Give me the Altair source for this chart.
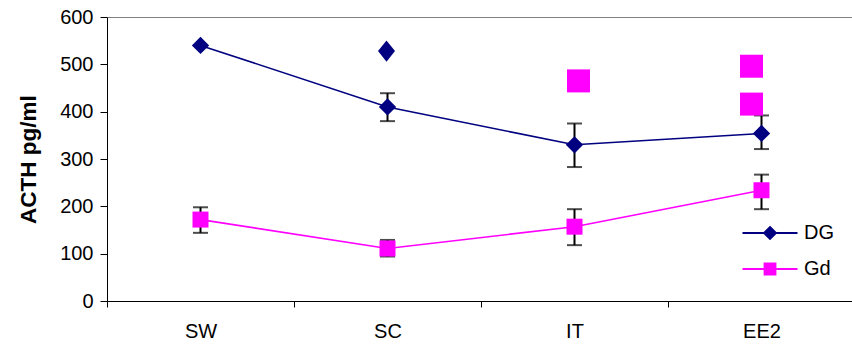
import altair as alt
import pandas as pd

# ---- data ----
categories = ["SW", "SC", "IT", "EE2"]
dg_mean = [540, 410, 330, 354]
dg_low = [None, 380, 283, 321]
dg_high = [None, 439, 375, 392]
gd_mean = [172, 111, 157, 234]
gd_low = [144, 94, 118, 194]
gd_high = [198, 129, 194, 267]

dg_out_cat = ["SC"]
dg_out_val = [528]
gd_out_cat = ["IT", "EE2", "EE2"]
gd_out_val = [465, 496, 416]

series_names = ["DG", "Gd"]
series_colors = ["#000080", "#FF00FF"]

rows = []
for c, m, lo, hi in zip(categories, dg_mean, dg_low, dg_high):
    rows.append({"cat": c, "series": "DG", "mean": m, "low": lo, "high": hi})
for c, m, lo, hi in zip(categories, gd_mean, gd_low, gd_high):
    rows.append({"cat": c, "series": "Gd", "mean": m, "low": lo, "high": hi})
df = pd.DataFrame(rows)

out_df = pd.DataFrame(
    [{"cat": c, "series": "DG", "val": v} for c, v in zip(dg_out_cat, dg_out_val)]
    + [{"cat": c, "series": "Gd", "val": v} for c, v in zip(gd_out_cat, gd_out_val)]
)

FONT = "Liberation Sans"
TITLE = "ACTH pg/ml"

xscale = alt.Scale(type="band", domain=categories, range=[0, 748], paddingInner=0, paddingOuter=0)
yscale = alt.Scale(domain=[0, 600], nice=False)

x_bottom = alt.X("cat:N", scale=xscale, sort=categories, title=None,
                 axis=alt.Axis(orient="bottom", labelAngle=0, labelFontSize=20, labelFont=FONT,
                               labelColor="black", tickBand="extent", tickSize=6,
                               tickColor="black", domainColor="black", labelPadding=14,
                               grid=False))
x_none = alt.X("cat:N", scale=xscale, sort=categories, title=None, axis=None)
x_top = alt.X("cat:N", scale=xscale, sort=categories, title=None,
              axis=alt.Axis(orient="top", labels=False, ticks=False, domainColor="#808080",
                            grid=False))

y_axis = alt.Axis(orient="left", values=[0, 100, 200, 300, 400, 500, 600], labelFontSize=20,
                  labelFont=FONT, labelColor="black", tickSize=7, tickColor="black",
                  domainColor="black", labelPadding=7, grid=False,
                  titleFont=FONT, titleFontSize=22.5, titleFontWeight="bold",
                  titleColor="black", titlePadding=19)


def Y(field):
    return alt.Y(field, scale=yscale, title=TITLE, axis=y_axis)


base = alt.Chart(df)
dg_base = base.transform_filter("datum.series == 'DG'")
gd_base = base.transform_filter("datum.series == 'Gd'")

dg_line = dg_base.mark_line(strokeWidth=1.6, color=series_colors[0]).encode(x=x_bottom, y=Y("mean:Q"))
gd_line = gd_base.mark_line(strokeWidth=1.6, color=series_colors[1]).encode(x=x_none, y=Y("mean:Q"))

err = base.transform_filter("isValid(datum.low)")
rules = err.mark_rule(color="black", strokeWidth=2).encode(
    x=x_none, y=Y("low:Q"), y2="high:Q")
cap_lo = err.mark_tick(color="black", thickness=2, size=15, orient="horizontal").encode(
    x=x_none, y=Y("low:Q"))
cap_hi = err.mark_tick(color="black", thickness=2, size=15, orient="horizontal").encode(
    x=x_none, y=Y("high:Q"))

dg_pts = dg_base.mark_point(
    shape="diamond", filled=True, size=300, color=series_colors[0], opacity=1).encode(
    x=x_none, y=Y("mean:Q"))
gd_pts = gd_base.mark_point(
    shape="square", filled=True, size=256, color=series_colors[1], opacity=1).encode(
    x=x_none, y=Y("mean:Q"))

outb = alt.Chart(out_df)
dg_out = outb.transform_filter("datum.series == 'DG'").mark_point(
    shape="M0,-1.25L1,0L0,1.25L-1,0Z", filled=True, size=289, color=series_colors[0], opacity=1,
    xOffset=-1).encode(x=x_none, y=Y("val:Q"))
gd_out_it = outb.transform_filter("datum.series == 'Gd' && datum.cat == 'IT'").mark_point(
    shape="square", filled=True, size=529, color=series_colors[1], opacity=1, xOffset=4).encode(
    x=x_none, y=Y("val:Q"))
gd_out_ee = outb.transform_filter("datum.series == 'Gd' && datum.cat == 'EE2'").mark_point(
    shape="square", filled=True, size=529, color=series_colors[1], opacity=1, xOffset=-10).encode(
    x=x_none, y=Y("val:Q"))

# legend carrier: invisible marks, visible legend (line stub + marker symbols)
leg_shapes = ["M-2.5,0L2.5,0M0,-0.55L0.55,0L0,0.55L-0.55,0Z",
              "M-2.5,0L2.5,0M-0.5,-0.5L0.5,-0.5L0.5,0.5L-0.5,0.5Z"]
legend_def = alt.Legend(title=None, orient="none", legendX=651, legendY=204,
                        symbolSize=484, symbolStrokeWidth=1.8, symbolOpacity=1,
                        labelFontSize=20, labelFont=FONT, labelColor="black",
                        labelOffset=22, rowPadding=14)
leg = base.mark_point(filled=True, opacity=0).encode(
    x=x_none, y=Y("mean:Q"),
    fill=alt.Fill("series:N", scale=alt.Scale(domain=series_names, range=series_colors),
                  legend=legend_def),
    stroke=alt.Stroke("series:N", scale=alt.Scale(domain=series_names, range=series_colors),
                      legend=legend_def),
    shape=alt.Shape("series:N", scale=alt.Scale(domain=series_names, range=leg_shapes),
                    legend=legend_def),
)

top_axis = base.transform_filter("datum.mean < 0").mark_point().encode(
    x=x_top, y=Y("mean:Q"))

chart = alt.layer(
    dg_line, gd_line, rules, cap_lo, cap_hi, dg_pts, gd_pts, dg_out, gd_out_it, gd_out_ee,
    leg, top_axis
).resolve_axis(x="independent").properties(
    width=745, height=284,
    autosize=alt.AutoSizeParams(type="none"),
    padding={"left": 107, "top": 17, "right": 0, "bottom": 50},
).configure_view(stroke=None).configure(background="white")

chart.save("out.html", embed_options={"renderer": "svg", "actions": False})
